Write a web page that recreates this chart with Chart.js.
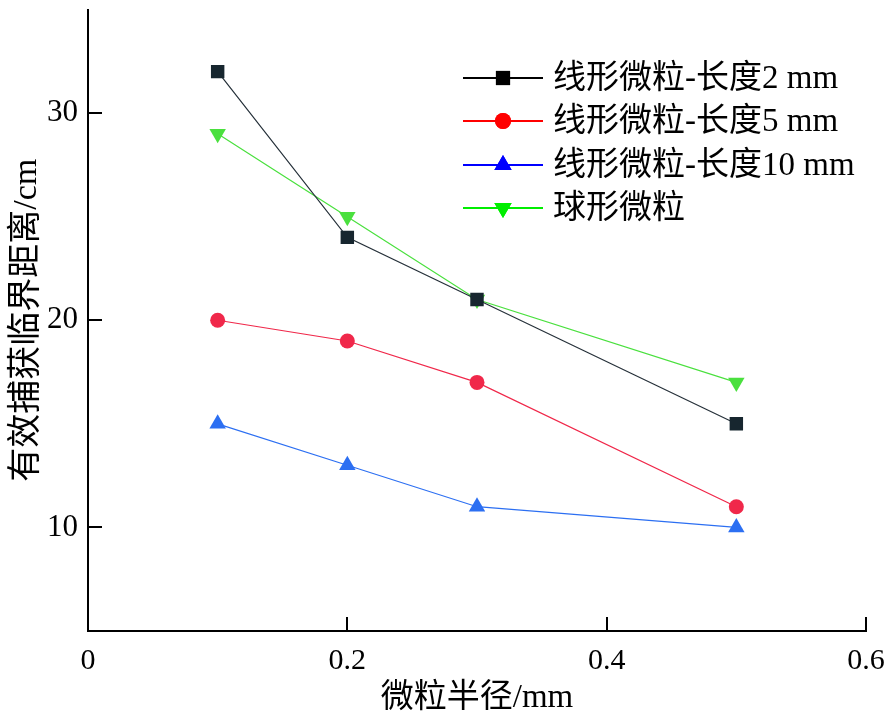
<!DOCTYPE html>
<html>
<head>
<meta charset="utf-8">
<script src="https://cdn.jsdelivr.net/npm/chart.js@4"></script>
<style>
  html, body { margin: 0; padding: 0; background: #fff; }
  #wrap { width: 891px; height: 718px; }
</style>
</head>
<body>
<div id="wrap"><canvas id="chart" width="891" height="718"></canvas></div>
<script>
// chart values
const radius = [0.1, 0.2, 0.3, 0.5];
const len2mm = [32, 24, 21, 15];
const len5mm = [20, 19, 17, 11];
const len10mm = [15, 13, 11, 10];
const sphere = [29, 25, 21, 17];
const xTicks = [0, 0.2, 0.4, 0.6];
const yTicks = [10, 20, 30];
const seriesNames = ['线形微粒-长度2 mm', '线形微粒-长度5 mm', '线形微粒-长度10 mm', '球形微粒'];

const FONT = "'Liberation Serif', 'Noto Sans CJK SC', serif";

const pts = (ys) => radius.map((x, i) => ({ x: x, y: ys[i] }));

// legend swatches use pure colours, the plotted marks a softer tone
const legendStyle = [
  { color: '#000000', style: 'rect', r: 10, rot: 0 },
  { color: '#ff0000', style: 'circle', r: 8, rot: 0 },
  { color: '#0000ff', style: 'triangle', r: 10, rot: 0 },
  { color: '#00ee00', style: 'triangle', r: 10, rot: 180 }
];

// inward tick marks + hand drawn legend (line through marker)
const extras = {
  id: 'extras',
  afterDraw(chart) {
    const ctx = chart.ctx;
    const { x, y } = chart.scales;
    const area = chart.chartArea;
    ctx.save();
    ctx.strokeStyle = '#000';
    ctx.lineWidth = 2;
    x.ticks.forEach(t => {
      if (t.value === 0) return;
      const px = Math.round(x.getPixelForValue(t.value));
      ctx.beginPath();
      ctx.moveTo(px, area.bottom);
      ctx.lineTo(px, area.bottom - 14);
      ctx.stroke();
    });
    y.ticks.forEach(t => {
      const py = Math.round(y.getPixelForValue(t.value));
      ctx.beginPath();
      ctx.moveTo(area.left, py);
      ctx.lineTo(area.left + 14, py);
      ctx.stroke();
    });

    // legend
    const lx = 463, lw = 80, rowY = [78, 121, 165, 208];
    ctx.font = '33px ' + FONT;
    ctx.textBaseline = 'middle';
    ctx.textAlign = 'left';
    legendStyle.forEach((s, i) => {
      const yy = rowY[i];
      ctx.strokeStyle = s.color;
      ctx.lineWidth = 2;
      ctx.beginPath();
      ctx.moveTo(lx, yy);
      ctx.lineTo(lx + lw, yy);
      ctx.stroke();
      ctx.fillStyle = s.color;
      Chart.helpers.drawPoint(ctx, { pointStyle: s.style, radius: s.r, rotation: s.rot, borderWidth: 0 }, lx + lw / 2, yy);
      ctx.fill();
      ctx.fillStyle = '#000';
      ctx.fillText(seriesNames[i], 553, yy + 1);
    });
    ctx.restore();
  }
};

function ds(label, data, line, point, style, r, rot) {
  return {
    label: label,
    data: pts(data),
    borderColor: line,
    borderWidth: 1.2,
    backgroundColor: point,
    pointBackgroundColor: point,
    pointBorderColor: point,
    pointBorderWidth: 0,
    pointStyle: style,
    pointRadius: r,
    pointRotation: rot,
    tension: 0,
    fill: false
  };
}

function noPad(s) {
  s.paddingTop = 0;
  s.paddingBottom = 0;
  s.paddingLeft = 0;
  s.paddingRight = 0;
}

new Chart(document.getElementById('chart').getContext('2d'), {
  type: 'line',
  data: {
    datasets: [
      ds(seriesNames[0], len2mm, '#26313a', '#17262f', 'rect', 9.5, 0),
      ds(seriesNames[1], len5mm, '#f0284a', '#f0284a', 'circle', 7.5, 0),
      ds(seriesNames[2], len10mm, '#2c6ff2', '#2c6ff2', 'triangle', 9.5, 0),
      ds(seriesNames[3], sphere, '#4ae03e', '#4ae03e', 'triangle', 9.5, 180)
    ]
  },
  options: {
    responsive: false,
    animation: false,
    layout: { padding: { top: 5, right: 25, left: 0, bottom: 0 } },
    plugins: { legend: { display: false }, tooltip: { enabled: false } },
    scales: {
      x: {
        type: 'linear',
        min: 0,
        max: 0.6,
        afterBuildTicks: s => { s.ticks = xTicks.map(v => ({ value: v })); },
        afterFit: s => { s.height = 87; noPad(s); },
        grid: { display: false, drawTicks: false },
        border: { display: true, color: '#000', width: 2 },
        ticks: {
          color: '#000',
          padding: 12,
          maxRotation: 0,
          font: { family: FONT, size: 30 },
          callback: v => String(v)
        },
        title: {
          display: true,
          text: '微粒半径/mm',
          color: '#000',
          font: { family: FONT, size: 33 },
          padding: { top: 0, bottom: 0 }
        }
      },
      y: {
        type: 'linear',
        min: 5,
        max: 35,
        afterBuildTicks: s => { s.ticks = yTicks.map(v => ({ value: v })); },
        afterFit: s => { s.width = 88; noPad(s); },
        grid: { display: false, drawTicks: false },
        border: { display: true, color: '#000', width: 2 },
        ticks: {
          color: '#000',
          padding: 10,
          font: { family: FONT, size: 31 },
          callback: v => String(v)
        },
        title: {
          display: true,
          text: '有效捕获临界距离/cm',
          color: '#000',
          font: { family: FONT, size: 34 },
          padding: { top: 7, bottom: 0 }
        }
      }
    }
  },
  plugins: [extras]
});
</script>
</body>
</html>
